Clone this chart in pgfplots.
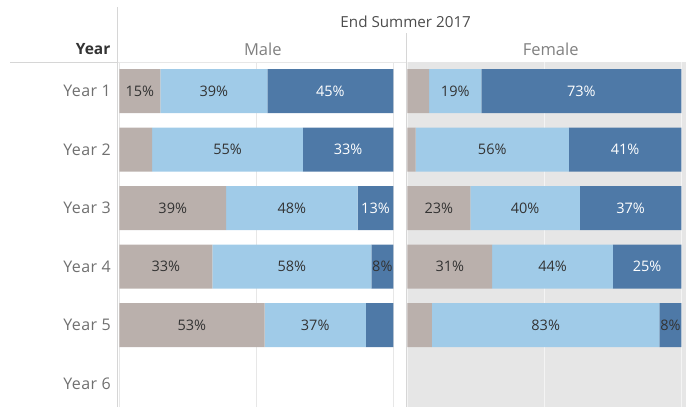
\documentclass[border=0pt]{standalone}
\usepackage{pgfplots}
\pgfplotsset{compat=1.18}
\usepackage{pgfplotstable}
\usepackage{fontspec}
\setmainfont{Open Sans}
\newfontfamily\yearfont[LetterSpace=2.5]{Open Sans}
\definecolor{cg}{HTML}{BAB0AC}
\definecolor{clb}{HTML}{A0CBE8}
\definecolor{cdb}{HTML}{4E79A7}
\definecolor{bgf}{HTML}{E6E6E6}
\definecolor{txt}{HTML}{333333}
\definecolor{lbl}{HTML}{707070}
\definecolor{hdr}{HTML}{808080}
\definecolor{gline}{HTML}{D6D6D6}
\newcommand{\dk}[1]{\textcolor{txt}{#1}}

\pgfplotstableread{
y a b c la lb lc
1 15 39 46 15\% 39\% 45\%
2 12 55 33 {} 55\% 33\%
3 39 48 13 39\% 48\% 13\%
4 34 58 8 33\% 58\% \dk{8\%}
5 53 37 10 53\% 37\% {}
}\maletab
\pgfplotstableread{
y a b c la lb lc
1 8 19 73 {} 19\% 73\%
2 3 56 41 {} 56\% 41\%
3 23 40 37 23\% 40\% 37\%
4 31 44 25 31\% 44\% 25\%
5 9 83 8 {} 83\% \dk{8\%}
}\femaletab

\pgfplotsset{
  panel/.style={
    scale only axis, height=345pt,
    xbar stacked, bar width=44pt,
    y dir=reverse, ymin=0.5, ymax=6.4,
    ytick={1,2,3,4,5,6},
    xtick={0,50,100}, xticklabels={},
    xmajorgrids,
    axis line style={draw=none},
    tick style={draw=none},
    point meta=explicit symbolic,
    nodes near coords,
    every node near coord/.append style={anchor=center, text=txt, font=\fontsize{14.5}{17}\selectfont},
  },
}

\begin{document}
\begin{tikzpicture}[x=1pt,y=1pt]
\useasboundingbox (0,0) rectangle (686,407);
\begin{axis}[panel, at={(118pt,0pt)}, anchor=south west, width=287pt,
  xmin=-0.47, xmax=104.27,
  major grid style={gline!60, line width=0.8pt},
  yticklabels={Year 1,Year 2,Year 3,Year 4,Year 5,Year 6},
  yticklabel style={anchor=east, inner sep=0pt, xshift=-7pt, text=lbl, font=\yearfont\fontsize{16}{19}\selectfont},
]
\addplot[fill=cg, draw=none] table[x=a, y=y, meta=la] {\maletab};
\addplot[fill=clb, draw=none] table[x=b, y=y, meta=lb] {\maletab};
\addplot[fill=cdb, draw=none, every node near coord/.append style={text=white}] table[x=c, y=y, meta=lc] {\maletab};
\end{axis}
\begin{axis}[panel, at={(406pt,0pt)}, anchor=south west, width=280pt,
  xmin=-0.47, xmax=101.7,
  axis background/.style={fill=bgf},
  major grid style={white!55!bgf, line width=0.8pt},
  yticklabels={},
]
\addplot[fill=cg, draw=none] table[x=a, y=y, meta=la] {\femaletab};
\addplot[fill=clb, draw=none] table[x=b, y=y, meta=lb] {\femaletab};
\addplot[fill=cdb, draw=none, every node near coord/.append style={text=white}] table[x=c, y=y, meta=lc] {\femaletab};
\end{axis}
\draw[gline, line width=0.9pt] (117.5,0) -- (117.5,400);
\draw[gline, line width=0.9pt] (10,344.5) -- (117.5,344.5);
\draw[gline!60, line width=0.9pt] (117.5,344.5) -- (406,344.5);
\draw[gline, line width=0.9pt] (406.5,0) -- (406.5,374);
\node[anchor=base, text=black!70, font=\fontsize{15.2}{17}\selectfont, inner sep=0pt] at (405.7,379.7) {End Summer 2017};
\node[anchor=base, text=hdr, font=\fontsize{16.5}{19}\selectfont, inner sep=0pt] at (262.8,351.7) {Male};
\node[anchor=base, text=hdr, font=\fontsize{16.5}{19}\selectfont, inner sep=0pt] at (550.7,351.7) {Female};
\node[anchor=base east, text=txt, font=\bfseries\fontsize{15.5}{19}\selectfont, inner sep=0pt] at (110.5,352) {Year};
\end{tikzpicture}
\end{document}
